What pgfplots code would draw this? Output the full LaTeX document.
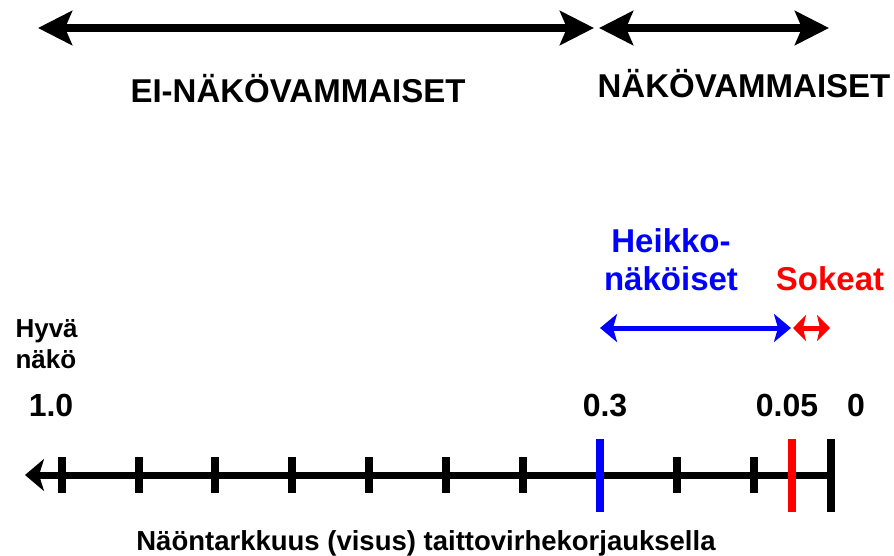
\documentclass[border=0pt]{standalone}
\usepackage{fontspec}
\setmainfont{Liberation Sans}
\usepackage{pgfplots}
\pgfplotsset{compat=1.18}
\usetikzlibrary{arrows.meta}
\definecolor{vblue}{RGB}{0,0,255}
\definecolor{vred}{RGB}{255,0,0}
\begin{document}
\begin{tikzpicture}
\begin{axis}[
  width=894pt, height=555pt, scale only axis,
  xmin=0, xmax=894, ymin=0, ymax=555, y dir=reverse,
  hide axis, clip=false,
  unbounded coords=jump,
]
% ranges on top
\addplot[black, line width=8pt,
  {Stealth[length=34pt,width=34pt,inset=7pt]}-{Stealth[length=34pt,width=34pt,inset=7pt]}]
  coordinates {(38,28)(594,28)};
\addplot[black, line width=8pt,
  {Stealth[length=34pt,width=34pt,inset=7pt]}-{Stealth[length=34pt,width=34pt,inset=7pt]}]
  coordinates {(599,28)(829,28)};
\node[anchor=base, font=\fontsize{33}{36}\selectfont\bfseries] at (axis cs:298,102) {EI-NÄKÖVAMMAISET};
\node[anchor=base, font=\fontsize{33}{36}\selectfont\bfseries] at (axis cs:744,97) {NÄKÖVAMMAISET};

% low vision / blind
\node[anchor=base, text=vblue, font=\fontsize{33}{36}\selectfont\bfseries] at (axis cs:671,252) {Heikko-};
\node[anchor=base, text=vblue, font=\fontsize{33}{36}\selectfont\bfseries] at (axis cs:671,290) {näköiset};
\node[anchor=base, text=vred, font=\fontsize{33}{36}\selectfont\bfseries] at (axis cs:830,290) {Sokeat};
\addplot[vblue, line width=5pt,
  {Stealth[length=17pt,width=28pt,inset=4pt]}-{Stealth[length=17pt,width=28pt,inset=4pt]}]
  coordinates {(600,328)(791,328)};
\addplot[vred, line width=5pt,
  {Stealth[length=13pt,width=26pt,inset=3pt]}-{Stealth[length=13pt,width=26pt,inset=3pt]}]
  coordinates {(793,328)(830,328)};

\node[anchor=base west, font=\fontsize{26}{28}\selectfont\bfseries] at (axis cs:12,337) {Hyvä};
\node[anchor=base west, font=\fontsize{26}{28}\selectfont\bfseries] at (axis cs:12,368) {näkö};

% scale values
\node[anchor=base, font=\fontsize{32}{34}\selectfont\bfseries] at (axis cs:51,416) {1.0};
\node[anchor=base, font=\fontsize{32}{34}\selectfont\bfseries] at (axis cs:605,416) {0.3};
\node[anchor=base, font=\fontsize{32}{34}\selectfont\bfseries] at (axis cs:787,416) {0.05};
\node[anchor=base, font=\fontsize{32}{34}\selectfont\bfseries] at (axis cs:856,416) {0};

% number line
\addplot[black, line width=7pt, {Stealth[length=19pt,width=32pt,inset=5pt]}-]
  coordinates {(25,475)(830,475)};
\addplot[black, line width=8pt] coordinates {
  (62,457)(62,493) (nan,nan) (139,457)(139,493) (nan,nan)
  (215,457)(215,493) (nan,nan) (292,457)(292,493) (nan,nan)
  (369,457)(369,493) (nan,nan) (446,457)(446,493) (nan,nan)
  (523,457)(523,493) (nan,nan) (677,457)(677,493) (nan,nan)
  (754,457)(754,493)};
\addplot[vblue, line width=8pt] coordinates {(600,439)(600,512)};
\addplot[vred, line width=8pt] coordinates {(792,439)(792,512)};
\addplot[black, line width=8pt] coordinates {(831,439)(831,512)};

\node[anchor=base, font=\fontsize{27.5}{30}\selectfont\bfseries] at (axis cs:426,550) {Näöntarkkuus (visus) taittovirhekorjauksella};
\end{axis}
\pgfresetboundingbox
\path (current axis.south west) rectangle (current axis.north east);
\end{tikzpicture}
\end{document}
